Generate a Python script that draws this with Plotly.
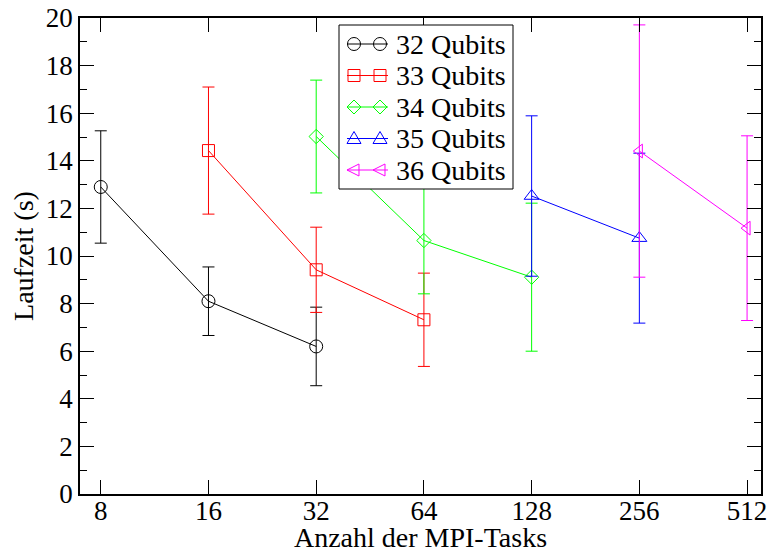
import plotly.graph_objects as go

# MPI task counts on the x axis
tasks = [8, 16, 32, 64, 128, 256, 512]
tick_labels = ["8", "16", "32", "64", "128", "256", "512"]

# mean runtime (s) and error per qubit count
q32_x = [8, 16, 32]
q32_y = [12.9, 8.1, 6.2]
q32_err = [2.36, 1.44, 1.65]

q33_x = [16, 32, 64]
q33_y = [14.43, 9.42, 7.32]
q33_err = [2.67, 1.79, 1.96]

q34_x = [32, 64, 128]
q34_y = [15.02, 10.65, 9.11]
q34_err = [2.37, 2.24, 3.11]

q35_x = [128, 256]
q35_y = [12.52, 10.75]
q35_err = [3.37, 3.57]

q36_x = [256, 512]
q36_y = [14.41, 11.17]
q36_err = [5.3, 3.88]

series_names = ["32 Qubits", "33 Qubits", "34 Qubits", "35 Qubits", "36 Qubits"]
series_x = [q32_x, q33_x, q34_x, q35_x, q36_x]
series_y = [q32_y, q33_y, q34_y, q35_y, q36_y]
series_err = [q32_err, q33_err, q34_err, q35_err, q36_err]

colors = ["#000000", "#ff0000", "#00ff00", "#0000ff", "#ff00ff"]
symbols = ["circle-open", "square-open", "diamond-open",
           "triangle-up-open", "triangle-left-open"]
sizes = [13, 12, 11, 13, 12]

FONT = "Liberation Serif"

W, H = 768, 553
ML, MR, MT, MB = 80, 7, 18, 59
PW, PH = W - ML - MR, H - MT - MB


def px_x(x):
    """pixel column -> paper x"""
    return (x - ML) / PW


def px_y(y):
    """pixel row -> paper y"""
    return (H - MB - y) / PH


fig = go.Figure()
for name, xs, ys, errs, color, symbol, size in zip(
        series_names, series_x, series_y, series_err, colors, symbols, sizes):
    fig.add_trace(go.Scatter(
        x=xs, y=ys, name=name, mode="lines+markers",
        line=dict(color=color, width=1),
        marker=dict(symbol=symbol, size=size, color=color,
                    line=dict(color=color, width=1)),
        error_y=dict(type="data", array=errs, visible=True,
                     color=color, thickness=1, width=6),
        showlegend=False,
    ))

# legend box drawn in grace style: a line with a symbol at each end
shapes = []
annotations = []
box_l, box_r, box_t, box_b = 339, 513, 25, 189
shapes.append(dict(type="rect", xref="paper", yref="paper", layer="above",
                   x0=px_x(box_l), x1=px_x(box_r),
                   y0=px_y(box_b), y1=px_y(box_t),
                   line=dict(color="black", width=1), fillcolor="white"))

row0, row_step = 44, 31.5
sym_l, sym_r = 354, 380
line_l, line_r = 347, 388
text_x = 394


def marker_shape(kind, cx, cy, color):
    s = dict(xref="paper", yref="paper", layer="above",
             line=dict(color=color, width=1), fillcolor="rgba(0,0,0,0)")
    if kind == "circle-open":
        r = 6.5
        s.update(type="circle", x0=px_x(cx - r), x1=px_x(cx + r),
                 y0=px_y(cy + r), y1=px_y(cy - r))
    elif kind == "square-open":
        r = 6
        s.update(type="rect", x0=px_x(cx - r), x1=px_x(cx + r),
                 y0=px_y(cy + r), y1=px_y(cy - r))
    else:
        if kind == "diamond-open":
            pts = [(cx - 7, cy), (cx, cy - 7), (cx + 7, cy), (cx, cy + 7)]
        elif kind == "triangle-up-open":
            pts = [(cx - 7, cy + 5), (cx + 7, cy + 5), (cx, cy - 7)]
        else:
            pts = [(cx - 7, cy), (cx + 5, cy - 6), (cx + 5, cy + 6)]
        path = "M" + "L".join(f"{px_x(a):.5f},{px_y(b):.5f}" for a, b in pts) + "Z"
        s.update(type="path", path=path)
    return s


for i, (name, color, symbol) in enumerate(zip(series_names, colors, symbols)):
    cy = row0 + i * row_step
    shapes.append(dict(type="line", xref="paper", yref="paper", layer="above",
                       x0=px_x(line_l), x1=px_x(line_r),
                       y0=px_y(cy), y1=px_y(cy),
                       line=dict(color=color, width=1)))
    shapes.append(marker_shape(symbol, sym_l, cy, color))
    shapes.append(marker_shape(symbol, sym_r, cy, color))
    annotations.append(dict(xref="paper", yref="paper", x=px_x(text_x),
                            y=px_y(cy), xanchor="left", yanchor="middle",
                            text=name, showarrow=False,
                            font=dict(family=FONT, size=28, color="black")))

fig.update_layout(
    width=W, height=H,
    margin=dict(l=ML, r=MR, t=MT, b=MB),
    paper_bgcolor="white", plot_bgcolor="white",
    font=dict(family=FONT, size=27, color="black"),
    showlegend=False,
    shapes=shapes,
    annotations=annotations,
    xaxis=dict(
        type="log", automargin=False,
        range=[0.845098, 2.748188],
        tickvals=tasks, ticktext=tick_labels,
        ticks="inside", ticklen=14, tickwidth=1, tickcolor="black",
        ticklabelstandoff=-8,
        showline=True, linecolor="black", linewidth=1.5, mirror="ticks",
        showgrid=False, zeroline=False,
        tickfont=dict(family=FONT, size=27),
        title=dict(text="Anzahl der MPI-Tasks", standoff=2,
                   font=dict(family=FONT, size=28)),
    ),
    yaxis=dict(
        range=[0, 20], dtick=2, tick0=0, automargin=False,
        ticks="inside", ticklen=14, tickwidth=1, tickcolor="black",
        minor=dict(dtick=1, ticks="inside", ticklen=7, tickwidth=1,
                   tickcolor="black", showgrid=False),
        showline=True, linecolor="black", linewidth=1.5, mirror="ticks",
        showgrid=False, zeroline=False,
        tickfont=dict(family=FONT, size=27),
        title=dict(text="Laufzeit (s)", standoff=4,
                   font=dict(family=FONT, size=28)),
    ),
)

fig.write_html("out.html")
